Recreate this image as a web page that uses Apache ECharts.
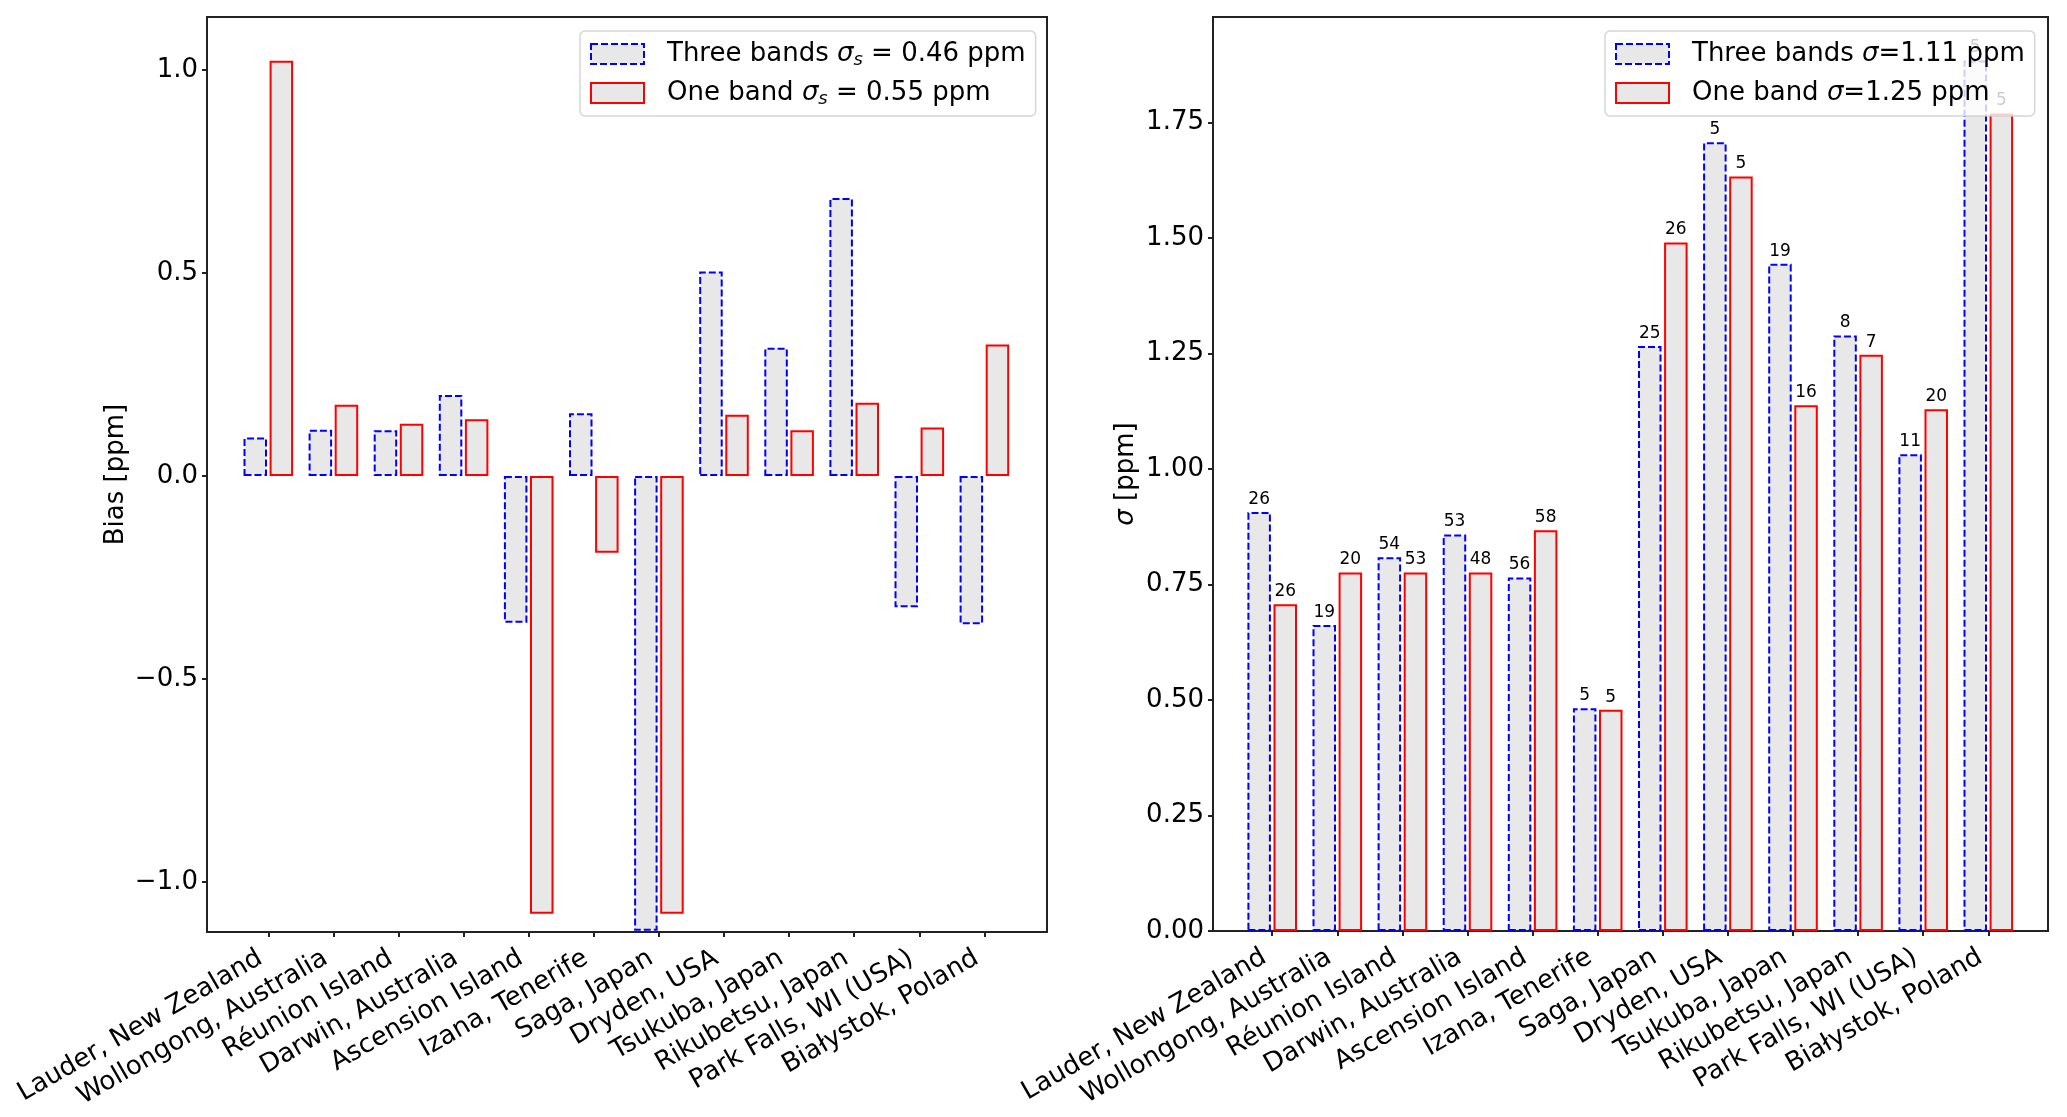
<!DOCTYPE html>
<html><head><meta charset="utf-8">
<script src="https://cdn.jsdelivr.net/npm/echarts@6/dist/echarts.min.js"></script>
<style>html,body{margin:0;padding:0;background:#fff}#c{width:2067px;height:1117px}</style>
</head><body><div id="c"></div>
<script>
const categories = ['Lauder, New Zealand','Wollongong, Australia','Réunion Island','Darwin, Australia','Ascension Island','Izana, Tenerife','Saga, Japan','Dryden, USA','Tsukuba, Japan','Rikubetsu, Japan','Park Falls, WI (USA)','Białystok, Poland'];
const biasThree = [0.095,0.114,0.113,0.200,-0.361,0.155,-1.120,0.504,0.316,0.685,-0.323,-0.365];
const biasOne = [1.023,0.176,0.129,0.140,-1.078,-0.189,-1.078,0.151,0.113,0.181,0.120,0.324];
const sigmaThree = [0.907,0.662,0.809,0.858,0.765,0.482,1.266,1.707,1.444,1.289,1.032,1.884];
const sigmaOne = [0.707,0.776,0.776,0.776,0.867,0.479,1.490,1.633,1.138,1.247,1.129,1.769];
const countThree = [26,19,54,53,56,5,25,5,19,8,11,5];
const countOne = [26,20,53,48,58,5,26,5,16,7,20,5];
const biasTicks = [-1.0,-0.5,0.0,0.5,1.0];
const sigmaTicks = [0,0.25,0.5,0.75,1.0,1.25,1.5,1.75];
const legendBias = ['Three bands {i|σ}{sub|s}{t| = 0.46 ppm}','One band {i|σ}{sub|s}{t| = 0.55 ppm}'];
const legendSigma = ['Three bands {i|σ}=1.11 ppm','One band {i|σ}=1.25 ppm'];
const yNameBias = 'Bias [ppm]';
const yNameSigma = '{i|σ} [ppm]';

const F = 'DejaVu Sans';
const FILL = '#e8e8e8';
const BLUE = '#0000ff', RED = '#ff0000', AX = '#222';
const styleThree = {color:FILL, borderColor:BLUE, borderWidth:2, borderType:[7,3]};
const styleOne = {color:FILL, borderColor:RED, borderWidth:2, borderType:'solid'};
const rich = {
  i:{fontFamily:F, fontSize:26, fontStyle:'italic', color:'#000'},
  sub:{fontFamily:F, fontSize:18, fontStyle:'italic', color:'#000', padding:[12,0,0,0]},
  t:{fontFamily:F, fontSize:26, color:'#000'}
};
const nameMap = {bias3:legendBias[0], bias1:legendBias[1], sig3:legendSigma[0], sig1:legendSigma[1]};

function legend(left, names){
  return {
    orient:'vertical', left:left, top:31, padding:[8,10,8,10], itemGap:9,
    itemWidth:53, itemHeight:20, icon:'rect', selectedMode:false,
    backgroundColor:'rgba(255,255,255,0.8)', borderColor:'rgba(204,204,204,0.8)',
    borderWidth:1.5, borderRadius:5,
    data:[{name:names[0], itemStyle:styleThree},{name:names[1], itemStyle:styleOne}],
    formatter:n => nameMap[n],
    textStyle:{fontFamily:F, fontSize:26, color:'#000', lineHeight:30, padding:[0,0,0,18], rich:rich}
  };
}
const tickStyle = {color:AX, width:2};
function xData(gi){
  return {gridIndex:gi, type:'category', data:categories,
    axisLine:{show:false, onZero:false},
    axisTick:{show:true, alignWithLabel:true, length:5, lineStyle:tickStyle},
    axisLabel:{interval:0, rotate:30, fontFamily:F, fontSize:26, color:'#000', margin:20, padding:[0,9,0,0]},
    splitLine:{show:false}};
}
function yData(gi, min, max, offset, ticks, fmt, name, gap){
  return {gridIndex:gi, type:'value', min:min, max:max, offset:offset,
    axisLine:{show:false}, splitLine:{show:false},
    axisTick:{show:true, length:5, lineStyle:tickStyle, customValues:ticks},
    axisLabel:{customValues:ticks, formatter:fmt, fontFamily:F, fontSize:26, color:'#000', margin:9},
    name:name, nameLocation:'middle', nameGap:gap,
    nameTextStyle:{fontFamily:F, fontSize:26, color:'#000', rich:rich}};
}
const dummy = gi => ({gridIndex:gi, type:'value', show:false});

const option = {
  animation:false,
  backgroundColor:'#fff',
  grid:[
    {left:207, top:17, width:840, height:915, show:true, borderColor:AX, borderWidth:2, backgroundColor:'transparent'},
    {left:235.75, top:17, width:781.2, height:915},
    {left:1213, top:17, width:835, height:914, show:true, borderColor:AX, borderWidth:2, backgroundColor:'transparent'},
    {left:1239.65, top:17, width:781.2, height:914}
  ],
  xAxis:[dummy(0), xData(1), dummy(2), xData(3)],
  yAxis:[
    dummy(0),
    yData(1, -1.123, 1.131, 28.75, biasTicks, v => (v<0?'\u2212':'') + Math.abs(v).toFixed(1), yNameBias, 78),
    dummy(2),
    yData(3, 0, 1.978, 26.65, sigmaTicks, v => v.toFixed(2), yNameSigma, 74)
  ],
  legend:[legend(580, ['bias3','bias1']), legend(1605, ['sig3','sig1'])],
  series:[
    {type:'bar', name:'bias3', xAxisIndex:1, yAxisIndex:1, data:biasThree, barWidth:23.5, itemStyle:styleThree},
    {type:'bar', name:'bias1', xAxisIndex:1, yAxisIndex:1, data:biasOne, barWidth:23.5, barGap:'11%', itemStyle:styleOne},
    {type:'bar', name:'sig3', xAxisIndex:3, yAxisIndex:3, data:sigmaThree, barWidth:23.5, itemStyle:styleThree,
      label:{show:true, position:'top', distance:4, fontFamily:F, fontSize:17, color:'#000', formatter:p => String(countThree[p.dataIndex])}},
    {type:'bar', name:'sig1', xAxisIndex:3, yAxisIndex:3, data:sigmaOne, barWidth:23.5, barGap:'11%', itemStyle:styleOne,
      label:{show:true, position:'top', distance:4, fontFamily:F, fontSize:17, color:'#000', formatter:p => String(countOne[p.dataIndex])}}
  ]
};
const chart = echarts.init(document.getElementById('c'), null, {renderer:'canvas'});
chart.setOption(option);
</script></body></html>
